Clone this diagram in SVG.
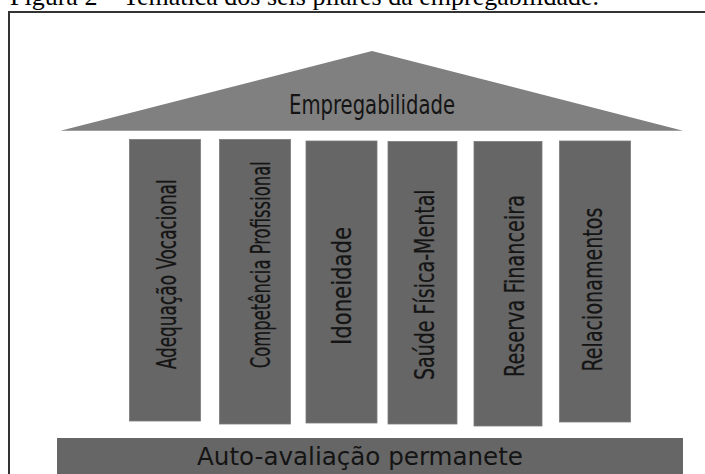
<svg xmlns="http://www.w3.org/2000/svg" width="705" height="474" viewBox="0 0 705 474">
  <style>
    .caption { font-family: "Liberation Serif", "Times New Roman", serif; font-size: 26px; fill: #000; }
    .roof { fill: #808080; }
    .pillar { fill: #666666; stroke: #7a7a7a; stroke-width: 0.8; }
    .base { fill: #666666; }
    .lbl { font-family: "DejaVu Sans Condensed", "DejaVu Sans", Verdana, sans-serif; fill: #141414; }
    .plbl { font-size: 27px; text-anchor: middle; stroke: #141414; stroke-width: 0.25; }
  </style>
  <rect x="0" y="0" width="705" height="474" fill="#ffffff"/>
  <text class="caption" x="10" y="5">Figura 2 – Temática dos seis pilares da empregabilidade.</text>
  <rect x="9" y="12" width="720" height="480" fill="none" stroke="#333333" stroke-width="2"/>

  <g id="roof">
    <polygon class="roof" points="372,51 683,130.7 60.5,130.7"/>
    <text class="lbl" x="372" y="114" font-size="26" text-anchor="middle" textLength="166" lengthAdjust="spacingAndGlyphs">Empregabilidade</text>
  </g>

  <g id="pillar-1">
    <rect class="pillar" x="129.5" y="139.5" width="71" height="281.5"/>
    <text class="lbl plbl" transform="translate(175.5,274.3) rotate(-90)" textLength="190" lengthAdjust="spacingAndGlyphs">Adequação Vocacional</text>
  </g>
  <g id="pillar-2">
    <rect class="pillar" x="219.5" y="139.5" width="71" height="284.5"/>
    <text class="lbl plbl" transform="translate(269.5,264.7) rotate(-90)" textLength="207" lengthAdjust="spacingAndGlyphs">Competência Profissional</text>
  </g>
  <g id="pillar-3">
    <rect class="pillar" x="306" y="141" width="71" height="282"/>
    <text class="lbl plbl" transform="translate(350.5,286) rotate(-90)" textLength="118" lengthAdjust="spacingAndGlyphs">Idoneidade</text>
  </g>
  <g id="pillar-4">
    <rect class="pillar" x="388" y="141.5" width="69" height="282.5"/>
    <text class="lbl plbl" transform="translate(433.5,284.7) rotate(-90)" textLength="190.7" lengthAdjust="spacingAndGlyphs">Saúde Física-Mental</text>
  </g>
  <g id="pillar-5">
    <rect class="pillar" x="474" y="141.5" width="68" height="284.5"/>
    <text class="lbl plbl" transform="translate(523.5,286) rotate(-90)" textLength="182" lengthAdjust="spacingAndGlyphs">Reserva Financeira</text>
  </g>
  <g id="pillar-6">
    <rect class="pillar" x="559.5" y="141" width="71" height="281"/>
    <text class="lbl plbl" transform="translate(602,289.5) rotate(-90)" textLength="164" lengthAdjust="spacingAndGlyphs">Relacionamentos</text>
  </g>

  <g id="base">
    <rect class="base" x="57" y="438" width="626" height="40"/>
    <text class="lbl" x="360" y="464.5" font-size="24.5" text-anchor="middle" textLength="326" lengthAdjust="spacingAndGlyphs">Auto-avaliação permanete</text>
  </g>

  <g id="connectors"></g>
</svg>
